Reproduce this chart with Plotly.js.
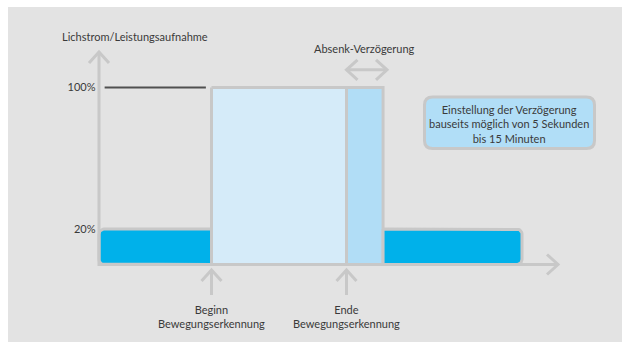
<!DOCTYPE html>
<html><head><meta charset="utf-8">
<script src="https://cdn.plot.ly/plotly-3.0.1.min.js"></script>
<style>html,body{margin:0;padding:0;background:#fff;}#chart{width:622px;height:342px;}</style>
</head><body><div id="chart"></div>
<script>
// ---------------- data ----------------
const phaseNames  = ['Grundlicht', 'Bewegung', 'Absenk-Verzögerung', 'Grundlicht'];
const phaseStart  = [0, 10, 22, 25.25];
const phaseEnd    = [10, 22, 25.25, 37.6];
const phaseLevel  = [20, 100, 100, 20];
const levelTicks    = [20, 100];
const levelTickText = ['20%', '100%'];
const eventTimes  = [10, 22];
const eventLabels = ['Beginn<br>Bewegungserkennung', 'Ende<br>Bewegungserkennung'];
const refLineX = [0.5, 9.5];
const refLineY = [100, 100];
const delaySpan = [22, 25.6];
const delayArrowLevel = 110;
const axisEndT = 40.8;
const axisEndLevel = 120;
const yTitle = 'Lichstrom/Leistungsaufnahme';
const delayTitle = 'Absenk-Verzögerung';
const noteText = 'Einstellung der Verzögerung<br>bauseits möglich von 5 Sekunden<br>bis 15 Minuten';

// ---------------- geometry / style ----------------
const W = 622, H = 342;
const X0PX = 99, KX = 11.25;     // px of t=0, px per time unit
const Y0PX = 264.5, KY = 1.77;   // px of level 0, px per %
const xRange = [-X0PX / KX, (W - X0PX) / KX];
const yRange = [-(H - Y0PX) / KY, Y0PX / KY];
const FONT = 'Lato, "Open Sans", sans-serif';
const TXT = '#3a3a3a';
const GREY = '#c8c8c8';
const fills = ['#00b1ea', '#d5ebf9', '#b1ddf6', '#00b1ea'];
const corners = [[1,0,0,1],[0,0,0,0],[0,0,0,0],[0,1,1,0]]; // tl,tr,br,bl
const px = x => x / W;
const py = y => 1 - y / H;

function roundedPoly(x0, x1, y0, y1, r, c) {
  const rx = r / KX, ry = r / KY, pts = [];
  function arc(cx, cy, a0, a1) {
    for (let i = 0; i <= 8; i++) { const a = a0 + (a1 - a0) * i / 8; pts.push([cx + rx * Math.cos(a), cy + ry * Math.sin(a)]); }
  }
  if (c[0]) arc(x0 + rx, y1 - ry, Math.PI, Math.PI / 2); else pts.push([x0, y1]);
  if (c[1]) arc(x1 - rx, y1 - ry, Math.PI / 2, 0); else pts.push([x1, y1]);
  if (c[2]) arc(x1 - rx, y0 + ry, 0, -Math.PI / 2); else pts.push([x1, y0]);
  if (c[3]) arc(x0 + rx, y0 + ry, -Math.PI / 2, -Math.PI); else pts.push([x0, y0]);
  pts.push(pts[0]);
  return pts;
}

const traces = [];
// blocks
phaseNames.forEach((name, i) => {
  const p = roundedPoly(phaseStart[i], phaseEnd[i], 0, phaseLevel[i], 5, corners[i]);
  traces.push({
    type: 'scatter', mode: 'lines', name: name,
    x: p.map(q => q[0]), y: p.map(q => q[1]),
    fill: 'toself', fillcolor: fills[i],
    line: { color: GREY, width: 3 }, hoverinfo: 'skip'
  });
});

// axes with arrow heads
const ax = 10 / KX, ay = 11 / KY;
const bx = 11 / KX, by = 10 / KY;
traces.push({
  type: 'scatter', mode: 'lines', hoverinfo: 'skip',
  x: [0, 0, axisEndT, null, -ax, 0, ax, null, axisEndT - bx, axisEndT, axisEndT - bx],
  y: [axisEndLevel, 0, 0, null, axisEndLevel - ay, axisEndLevel, axisEndLevel - ay, null, by, 0, -by],
  line: { color: GREY, width: 3 }
});
// event arrows below x axis
const tipV = -5.5 / KY, tailV = -30.5 / KY;
const ex = [], ey = [];
eventTimes.forEach(t => {
  ex.push(t, t, null, t - ax, t, t + ax, null);
  ey.push(tailV, tipV, null, tipV - ay, tipV, tipV - ay, null);
});
traces.push({ type: 'scatter', mode: 'lines', hoverinfo: 'skip', x: ex, y: ey, line: { color: GREY, width: 3 } });
// double arrow (delay)
traces.push({
  type: 'scatter', mode: 'lines', hoverinfo: 'skip',
  x: [delaySpan[0], delaySpan[1], null, delaySpan[0] + bx, delaySpan[0], delaySpan[0] + bx, null, delaySpan[1] - bx, delaySpan[1], delaySpan[1] - bx],
  y: [delayArrowLevel, delayArrowLevel, null, delayArrowLevel + by, delayArrowLevel, delayArrowLevel - by, null, delayArrowLevel + by, delayArrowLevel, delayArrowLevel - by],
  line: { color: GREY, width: 3 }
});
// 100% reference line
traces.push({ type: 'scatter', mode: 'lines', hoverinfo: 'skip', x: refLineX, y: refLineY, line: { color: '#505050', width: 2 } });

// callout box path (pixels -> paper)
function roundRectPaper(x0, y0, x1, y1, r) {
  const P = (x, y) => px(x) + ',' + py(y);
  return 'M' + P(x0 + r, y0) + ' L' + P(x1 - r, y0) + ' Q' + P(x1, y0) + ' ' + P(x1, y0 + r) +
    ' L' + P(x1, y1 - r) + ' Q' + P(x1, y1) + ' ' + P(x1 - r, y1) +
    ' L' + P(x0 + r, y1) + ' Q' + P(x0, y1) + ' ' + P(x0, y1 - r) +
    ' L' + P(x0, y0 + r) + ' Q' + P(x0, y0) + ' ' + P(x0 + r, y0) + ' Z';
}

const annotations = [
  { text: yTitle, xref: 'paper', yref: 'paper', x: px(60), y: py(36), xanchor: 'left', yanchor: 'middle', showarrow: false },
  { text: delayTitle, xref: 'x', yref: 'paper', x: (phaseStart[2] + phaseEnd[2]) / 2, y: py(49), xanchor: 'center', yanchor: 'middle', showarrow: false },
  { text: noteText, xref: 'paper', yref: 'paper', x: px(509), y: py(123.5), xanchor: 'center', yanchor: 'middle', showarrow: false }
];
eventTimes.forEach((t, i) => annotations.push({
  text: eventLabels[i], xref: 'x', yref: 'paper', x: t, y: py(316), xanchor: 'center', yanchor: 'middle', showarrow: false
}));

const layout = {
  width: W, height: H, margin: { l: 0, r: 0, t: 0, b: 0 },
  paper_bgcolor: '#ffffff', plot_bgcolor: 'rgba(0,0,0,0)', showlegend: false,
  font: { family: FONT, size: 11, color: TXT },
  xaxis: { range: xRange, visible: false, fixedrange: true },
  yaxis: {
    range: yRange, anchor: 'free', position: px(98.5), showgrid: false, zeroline: false, showline: false,
    ticks: '', tickvals: levelTicks, ticktext: levelTickText, ticklabelstandoff: 3,
    tickfont: { family: FONT, size: 11, color: TXT }, fixedrange: true
  },
  shapes: [
    { type: 'rect', xref: 'paper', yref: 'paper', x0: px(8), x1: 1, y0: 0, y1: py(7), fillcolor: '#e3e3e3', line: { width: 0 }, layer: 'below' },
    { type: 'path', xref: 'paper', yref: 'paper', path: roundRectPaper(424.5, 97, 594.5, 148.5, 8), fillcolor: '#b1def7', line: { color: GREY, width: 3 }, layer: 'above' }
  ],
  annotations: annotations
};

Plotly.newPlot('chart', traces, layout, { staticPlot: true, displayModeBar: false });
</script></body></html>
